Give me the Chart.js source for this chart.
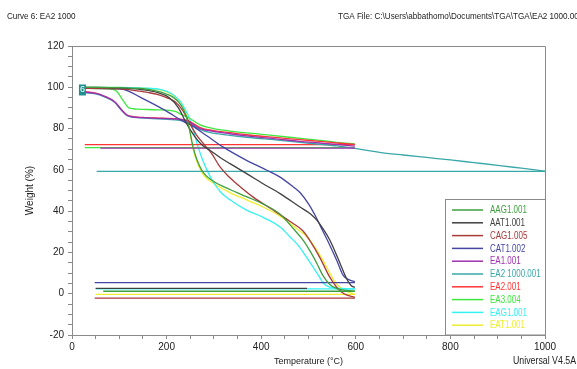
<!DOCTYPE html>
<html>
<head>
<meta charset="utf-8">
<title>TGA EA2 1000</title>
<script src="https://cdn.jsdelivr.net/npm/chart.js@4.4.0/dist/chart.umd.min.js"></script>
<style>
  body { margin: 0; background: #fff; }
  canvas { display: block; }
</style>
</head>
<body>
<canvas id="tga" width="577" height="369"></canvas>
<script>
// muestras en el orden de la leyenda
const muestras = ['AAG1.001', 'AAT1.001', 'CAG1.005', 'CAT1.002', 'EA1.001',
                  'EA2 1000.001', 'EA2.001', 'EA3.004', 'EAG1.001', 'EAT1.001'];
const colores = ['#3f9f3f', '#404040', '#a83a3a', '#4545a5', '#a030b0',
                 '#3aa8a8', '#ff3535', '#3ee83e', '#35f2f2', '#eeee30'];

// calentamiento: temperatura (°C) y peso (%)
const aagT = [25, 100, 150, 190, 215, 230, 240, 248, 256, 264, 278, 299, 334, 369, 404, 440, 470, 490, 505, 518, 530, 545, 560, 580, 598];
const aagW = [100, 99.8, 99.3, 97.5, 95, 91.5, 87, 80, 71, 65, 58.5, 54.5, 50.5, 47, 43.5, 38.5, 31, 25.5, 20, 14.5, 9, 4.5, 2.5, 1.6, 1.2];
const aatT = [25, 100, 150, 180, 205, 225, 242, 260, 275, 292, 313, 334, 369, 404, 440, 482, 505, 518, 532, 545, 556, 567, 580, 590, 598];
const aatW = [100, 99.7, 98.8, 97.5, 95, 90, 82.5, 76, 72, 69.4, 66, 63, 58.2, 53.3, 48.5, 42, 38.5, 35.5, 31, 26, 20.5, 14.5, 7.5, 4, 3];
const cagT = [25, 100, 130, 160, 182, 200, 218, 235, 249, 263, 278, 295, 313, 330, 348, 383, 426, 461, 488, 505, 524, 545, 560, 575, 598];
const cagW = [99.5, 99.2, 98.5, 97.5, 96.5, 95, 93, 88.5, 82.4, 77, 72.7, 68, 61.4, 57, 53.3, 46.8, 40.4, 35, 30.5, 25, 17.5, 8, 3, 0, -1.8];
const catT = [25, 80, 108, 150, 197, 239, 249, 285, 320, 369, 412, 440, 468, 482, 500, 515, 530, 545, 560, 573, 585, 598];
const catW = [99.5, 99.4, 99, 94.5, 88.8, 83, 82, 76.5, 71, 64.6, 59.8, 56.5, 51.7, 49, 43.5, 37.5, 30.5, 23.5, 16, 9, 6.8, 5.8];
const ea1T = [20, 50, 70, 90, 105, 116, 130, 150, 190, 228, 245, 271, 299, 334, 369, 440, 482, 524, 560, 598];
const ea1W = [97.8, 97, 95.5, 93, 89, 86.5, 85.6, 85.3, 84.9, 84.4, 83.5, 80, 78.6, 77.5, 76.5, 74.8, 73.8, 73, 72.3, 71.5];
const ea2kT = [20, 50, 70, 90, 105, 116, 130, 150, 190, 228, 245, 271, 299, 334, 369, 440, 482, 524, 560, 598, 650, 700, 750, 800, 850, 900, 950, 1000];
const ea2kW = [97.5, 96.8, 95.2, 92.7, 88.7, 86.3, 85.4, 85.1, 84.6, 84, 83, 79.5, 77.8, 76.7, 75.8, 74.3, 73.3, 72.4, 71.6, 70.4, 68.5, 67.2, 66, 64.8, 63.5, 62.2, 60.8, 59.4];
const ea2T = [20, 50, 70, 90, 105, 116, 130, 150, 190, 228, 245, 271, 299, 334, 369, 440, 482, 524, 560, 598];
const ea2W = [98, 97.2, 95.5, 93, 89, 86.6, 85.8, 85.4, 85, 84.6, 83.8, 80.5, 79, 78, 77, 75.5, 74.6, 73.8, 73, 72.3];
const ea3T = [20, 60, 85, 95, 106, 118, 130, 140, 180, 218, 230, 245, 271, 299, 334, 397, 460, 524, 560, 598];
const ea3W = [99.6, 99.4, 99, 98, 94.3, 90.5, 89.6, 89.4, 89.1, 88.3, 87, 85.5, 81.8, 80, 78.8, 77.3, 75.8, 74.3, 73.3, 72.6];
const eagT = [25, 100, 150, 186, 210, 228, 240, 249, 258, 266, 275, 285, 299, 315, 334, 369, 404, 440, 461, 476, 495, 510, 522, 531, 545, 560, 580, 598];
const eagW = [100, 99.9, 99.6, 99, 97, 93.4, 89, 84.5, 78, 71.5, 65.5, 60, 54, 49, 45.5, 40.5, 37, 32.3, 27.5, 24, 18, 12.8, 8.5, 5.2, 3.2, 2.7, 2.4, 2.3];
const eatT = [25, 100, 150, 190, 215, 230, 240, 248, 256, 264, 278, 299, 334, 369, 404, 440, 475, 497, 515, 531, 545, 555, 570, 585, 598];
const eatW = [100, 99.9, 99.6, 98.5, 96, 92.5, 88, 80, 70, 64, 57.5, 53.5, 49, 45.5, 42, 37.5, 31.5, 27.5, 22, 16, 10, 6, 2.5, 0.8, -0.3];

// enfriamiento: vuelta horizontal al peso final
const enfriaDesde = [66, 50, 48, 48, 60, 52, 27, 27, 50, 50];
const enfriaHasta = [598, 497, 598, 598, 598, 1000, 598, 598, 598, 598];
const enfriaPeso = [1.2, 2.6, -2.1, 5.4, 70.5, 59.3, 72.2, 70.8, 2.3, -0.3];

// etiquetas de los ejes
const xMarcas = [0, 200, 400, 600, 800, 1000];
const yMarcas = [-20, 0, 20, 40, 60, 80, 100, 120];

const calent = [[aagT, aagW], [aatT, aatW], [cagT, cagW], [catT, catW], [ea1T, ea1W],
                [ea2kT, ea2kW], [ea2T, ea2W], [ea3T, ea3W], [eagT, eagW], [eatT, eatW]];

var datasets = [];
calent.forEach(function (par, i) {
  datasets.push({
    label: muestras[i],
    data: par[0].map(function (t, k) { return { x: t, y: par[1][k] }; }),
    borderColor: colores[i],
    borderWidth: 1.3,
    pointRadius: 0,
    showLine: true,
    cubicInterpolationMode: 'monotone'
  });
  datasets.push({
    label: muestras[i] + ' enfr.',
    data: [{ x: enfriaDesde[i], y: enfriaPeso[i] }, { x: enfriaHasta[i], y: enfriaPeso[i] }],
    borderColor: colores[i],
    borderWidth: 1.3,
    pointRadius: 0,
    showLine: true
  });
});

const fuente = '"Liberation Sans", Arial, sans-serif';
const gris = '#8a8a8a';

// texto estrecho, como el del original
function textoEstrecho(ctx, txt, x, y, esc) {
  ctx.save();
  ctx.translate(x, y);
  ctx.scale(esc, 1);
  ctx.fillText(txt, 0, 0);
  ctx.restore();
}

const extras = {
  id: 'extras',
  afterDraw: function (chart) {
    var ctx = chart.ctx, a = chart.chartArea;
    var xs = chart.scales.x, ys = chart.scales.y;
    ctx.save();
    // marco arriba y a la derecha
    ctx.strokeStyle = gris;
    ctx.lineWidth = 1;
    ctx.beginPath();
    ctx.moveTo(a.left, a.top + 0.5);
    ctx.lineTo(a.right + 0.5, a.top + 0.5);
    ctx.lineTo(a.right + 0.5, a.bottom);
    ctx.stroke();

    // marcador de la curva 6
    var mx = xs.getPixelForValue(21), my = ys.getPixelForValue(98.7);
    ctx.fillStyle = '#1f8f8f';
    ctx.fillRect(mx - 3, my - 5.5, 7, 11);
    ctx.fillStyle = '#fff';
    ctx.font = '9px ' + fuente;
    ctx.textAlign = 'center';
    ctx.textBaseline = 'middle';
    ctx.fillText('6', mx + 0.5, my);

    // leyenda
    var lx = 445.5, ly = 199.5;
    ctx.fillStyle = '#fff';
    ctx.fillRect(lx, ly, a.right - lx, a.bottom - ly);
    ctx.strokeStyle = gris;
    ctx.strokeRect(lx, ly, a.right + 0.5 - lx, a.bottom - ly);
    ctx.font = '10px ' + fuente;
    ctx.textAlign = 'left';
    for (var i = 0; i < muestras.length; i++) {
      var y = 210 + i * 12.8;
      ctx.strokeStyle = colores[i];
      ctx.lineWidth = 1.5;
      ctx.beginPath();
      ctx.moveTo(452, y);
      ctx.lineTo(483, y);
      ctx.stroke();
      ctx.fillStyle = colores[i];
      textoEstrecho(ctx, muestras[i], 490, y + 0.5, 0.8);
    }

    // textos de cabecera y pie
    ctx.fillStyle = '#222';
    ctx.font = '9px ' + fuente;
    textoEstrecho(ctx, 'Curve 6: EA2 1000', 7, 17, 0.9);
    textoEstrecho(ctx, 'TGA File: C:\\Users\\abbathomo\\Documents\\TGA\\TGA\\EA2 1000.001', 338, 17, 0.9);
    ctx.font = '10px ' + fuente;
    textoEstrecho(ctx, 'Universal V4.5A TA Instruments', 513, 361, 0.88);
    ctx.restore();
  }
};

const ctx = document.getElementById('tga');
const tga = new Chart(ctx, {
  type: 'scatter',
  data: { datasets: datasets },
  options: {
    responsive: false,
    animation: false,
    devicePixelRatio: 1,
    layout: { padding: { top: 46, right: 32, left: 0, bottom: 0 } },
    plugins: {
      legend: { display: false },
      tooltip: { enabled: false }
    },
    scales: {
      x: {
        type: 'linear',
        min: 0,
        max: 1000,
        ticks: {
          stepSize: 50,
          autoSkip: false,
          maxRotation: 0,
          padding: 2,
          color: '#222',
          font: { family: fuente, size: 10 },
          callback: function (v) { return xMarcas.includes(v) ? v : ''; }
        },
        grid: { drawOnChartArea: false, drawTicks: true, tickLength: 4, color: gris },
        border: { color: gris },
        title: {
          display: true,
          text: 'Temperature (°C)',
          color: '#222',
          font: { family: fuente, size: 9 },
          padding: { top: 0, bottom: 2 }
        },
        afterFit: function (s) { s.height = 34; }
      },
      y: {
        type: 'linear',
        min: -20,
        max: 120,
        ticks: {
          stepSize: 5,
          autoSkip: false,
          padding: 4,
          color: '#222',
          font: { family: fuente, size: 10 },
          callback: function (v) { return yMarcas.includes(v) ? v : ''; }
        },
        grid: { drawOnChartArea: false, drawTicks: true, tickLength: 4, color: gris },
        border: { color: gris },
        title: {
          display: true,
          text: 'Weight (%)',
          color: '#222',
          font: { family: fuente, size: 10 },
          padding: { top: 24, bottom: 0 }
        },
        afterFit: function (s) { s.width = 72; }
      }
    }
  },
  plugins: [extras]
});
</script>
</body>
</html>
